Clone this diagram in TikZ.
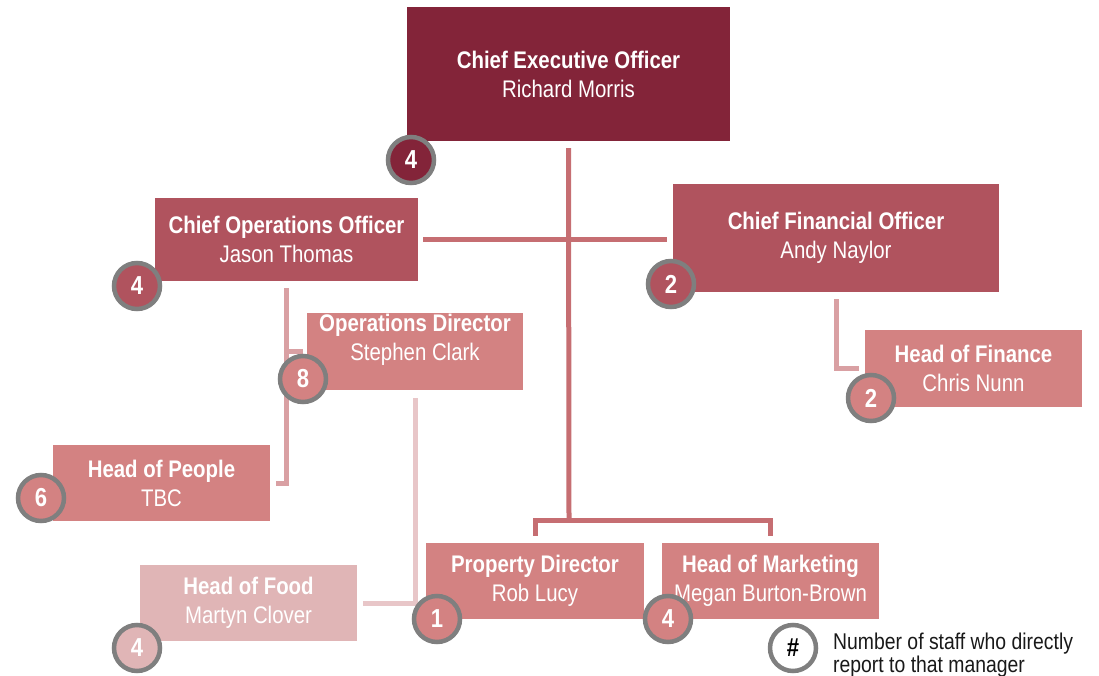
\documentclass[tikz,border=0pt]{standalone}
\usepackage{fontspec}
\setmainfont{Liberation Sans}[FakeStretch=0.85]
\definecolor{ceored}{HTML}{832439}
\definecolor{chiefred}{HTML}{B0535E}
\definecolor{headred}{HTML}{D38282}
\definecolor{foodpink}{HTML}{E0B5B6}
\definecolor{linkred}{HTML}{C66E72}
\definecolor{sublinkred}{HTML}{D9A0A3}
\definecolor{foodlinkred}{HTML}{E8C6C8}
\definecolor{ringgray}{HTML}{7F7F7F}

\begin{document}
\begin{tikzpicture}[x=1pt,y=-1pt,
	box/.style={rectangle,fill=#1,text=white,align=center,inner sep=0pt,
		font=\fontsize{24}{29}\selectfont},
	badge/.style={circle,draw=ringgray,line width=4.5pt,fill=#1,text=white,
		minimum size=46pt,inner sep=0pt,font=\fontsize{26}{26}\selectfont\bfseries},
	link/.style={line width=5pt,draw=#1},
	link/.default=linkred]
	\useasboundingbox (0,0) rectangle (1099,676);
	% boxes
	\node[box=ceored,minimum width=323pt,minimum height=134pt] (ceo) at (568.5,74)
		{\textbf{Chief Executive Officer}\\Richard Morris};
	\node[box=chiefred,minimum width=263pt,minimum height=83pt] (coo) at (286.5,239.5)
		{\textbf{Chief Operations Officer}\\Jason Thomas};
	\node[box=chiefred,minimum width=326pt,minimum height=108pt] (cfo) at (836,238)
		{\textbf{Chief Financial Officer}\\Andy Naylor};
	\node[box=headred,minimum width=216pt,minimum height=77pt] (ops) at (415,351.5) {};
	\node[box=headred,fill=none] (ops-label) at ([yshift=12pt]ops.center)
		{\textbf{Operations Director}\\Stephen Clark};
	\node[box=headred,minimum width=217pt,minimum height=77pt] (fin) at (973.5,368.5)
		{\textbf{Head of Finance}\\Chris Nunn};
	\node[box=headred,minimum width=217pt,minimum height=76pt] (people) at (161.5,483)
		{\textbf{Head of People}\\TBC};
	\node[box=foodpink,minimum width=217pt,minimum height=76pt] (food) at (248.5,603)
		{\textbf{Head of Food}\\Martyn Clover};
	\node[box=headred,minimum width=218pt,minimum height=76pt] (prop) at (535,581)
		{\textbf{Property Director}\\Rob Lucy};
	\node[box=headred,minimum width=217pt,minimum height=76pt] (mkt) at (770.5,581)
		{\textbf{Head of Marketing}\\Megan Burton-Brown};

	% reporting lines
	\coordinate (fork) at (569,520);
	\draw[link] ([yshift=-7pt]ceo.south) -- (fork);
	\draw[link] ([xshift=5pt]coo.east) -- ([xshift=-6pt]cfo.west |- coo.east);
	\draw[link] ([yshift=7pt]prop.north) |- (fork) -| ([yshift=7pt]mkt.north);
	\draw[link=sublinkred] ([yshift=-7pt]coo.south) |- ([xshift=6pt]people.east);
	\draw[link=sublinkred] (coo.south |- ops.west) -- ([xshift=-4pt]ops.west);
	\draw[link=sublinkred] ([yshift=-7pt]cfo.south) |- ([xshift=-6pt]fin.west);
	\draw[link=foodlinkred] ([yshift=-8pt]ops.south) |- ([xshift=6pt]food.east);

	% direct report counts
	\node[badge=ceored] (n-ceo) at (411,160) {4};
	\node[badge=chiefred] (n-coo) at (137,286) {4};
	\node[badge=chiefred] (n-cfo) at (671,284) {2};
	\node[badge=headred] (n-ops) at (303,379) {8};
	\node[badge=headred] (n-fin) at (871,398) {2};
	\node[badge=headred] (n-people) at (41,498) {6};
	\node[badge=foodpink] (n-food) at (137,648) {4};
	\node[badge=headred] (n-prop) at (437,619) {1};
	\node[badge=headred] (n-mkt) at (668,619) {4};

	% key
	\node[badge=white,text=black] (key) at (793,648) {\#};
	\node[anchor=west,align=left,inner sep=0pt,text=black!90,
		font=\fontsize{22.8}{23}\selectfont] (key-text) at (833,655)
		{Number of staff who directly\\report to that manager};
\end{tikzpicture}
\end{document}
